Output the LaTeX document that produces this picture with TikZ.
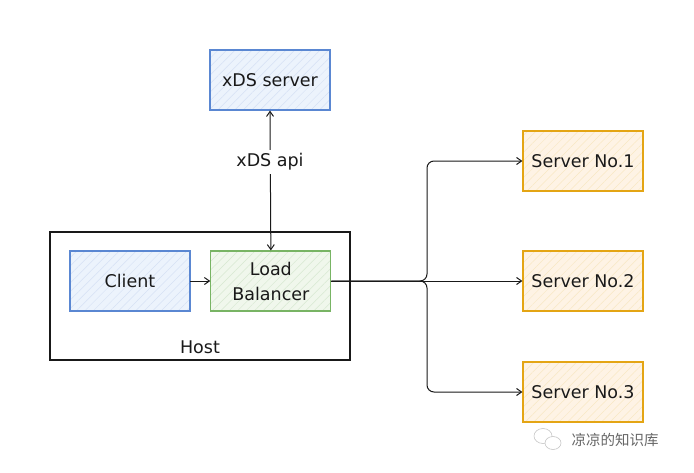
\documentclass[tikz,border=0pt]{standalone}
\usepackage{fontspec}
\setmainfont{DejaVu Sans}
\newfontfamily\cjk{Noto Sans CJK SC}
\usetikzlibrary{arrows.meta, positioning, patterns.meta}
\definecolor{TraitBleu}{RGB}{90,135,210}
\definecolor{FondBleu}{RGB}{236,243,252}
\definecolor{TraitVert}{RGB}{120,180,100}
\definecolor{FondVert}{RGB}{240,247,236}
\definecolor{TraitOrange}{RGB}{228,165,20}
\definecolor{FondOrange}{RGB}{254,243,229}
\definecolor{Encre}{RGB}{25,25,25}
\tikzset{boite/.style={rectangle, minimum width=120pt, minimum height=60pt,
  line width=1.2pt, align=center, text=Encre, font=\fontsize{17.5}{25}\selectfont}}
\tikzset{boiteb/.style={boite, draw=TraitBleu, preaction={fill=FondBleu},
  pattern={Lines[angle=45, distance=6pt, line width=0.5pt]}, pattern color=TraitBleu!25}}
\tikzset{boitev/.style={boite, draw=TraitVert, preaction={fill=FondVert},
  pattern={Lines[angle=45, distance=6pt, line width=0.5pt]}, pattern color=TraitVert!30}}
\tikzset{boiteo/.style={boite, draw=TraitOrange, preaction={fill=FondOrange},
  pattern={Lines[angle=45, distance=6pt, line width=0.5pt]}, pattern color=TraitOrange!25}}
\tikzset{fl/.style={-{Straight Barb[length=5pt, width=7pt]}, draw=Encre, line width=1pt}}

\begin{document}
\begin{tikzpicture}[x=1pt, y=1pt, node distance=20pt and 20pt]
\useasboundingbox (0,0) rectangle (694,-472);
\node[rectangle, draw=Encre, line width=1.2pt, minimum width=300pt, minimum height=128pt] (host) at (200,-296) {};
\node[text=Encre, font=\fontsize{17.5}{25}\selectfont] (hostlbl) at (200,-347) {Host};
\node[boiteb] (client) at (130,-281) {Client};
\node[boitev, right=of client] (lb) {Load\\Balancer};
\node[boiteb] (xds) at (270,-80) {xDS server};
\node[boiteo] (s1) at (583,-161) {Server No.1};
\node[boiteo] (s2) at (583,-281) {Server No.2};
\node[boiteo] (s3) at (583,-392) {Server No.3};
\coordinate (fork) at (427,-281);
\draw[fl] (client) -- (lb);
\draw[fl, {Straight Barb[length=5pt, width=7pt]}-{Straight Barb[length=5pt, width=7pt]}] (lb.north) -- (xds.south);
\node[fill=white, text=Encre, font=\fontsize{17.5}{25}\selectfont, inner sep=4pt] (api) at (270,-162) {xDS api};
\draw[fl] (lb.east) -- (s2.west);
\draw[fl, rounded corners=7pt] (lb.east) -- (fork) |- (s1.west);
\draw[fl, rounded corners=7pt] (lb.east) -- (fork) |- (s3.west);
% filigrane
\draw[gray!45, line width=0.6pt] (543,-436) ellipse (9pt and 7.5pt);
\draw[gray!45, line width=0.6pt, fill=white] (553,-443) ellipse (8pt and 6.5pt);
\node[text=gray!80!black, font=\cjk\fontsize{14.5}{16}\selectfont, anchor=west] (marque) at (568,-440) {凉凉的知识库};
\end{tikzpicture}
\end{document}
